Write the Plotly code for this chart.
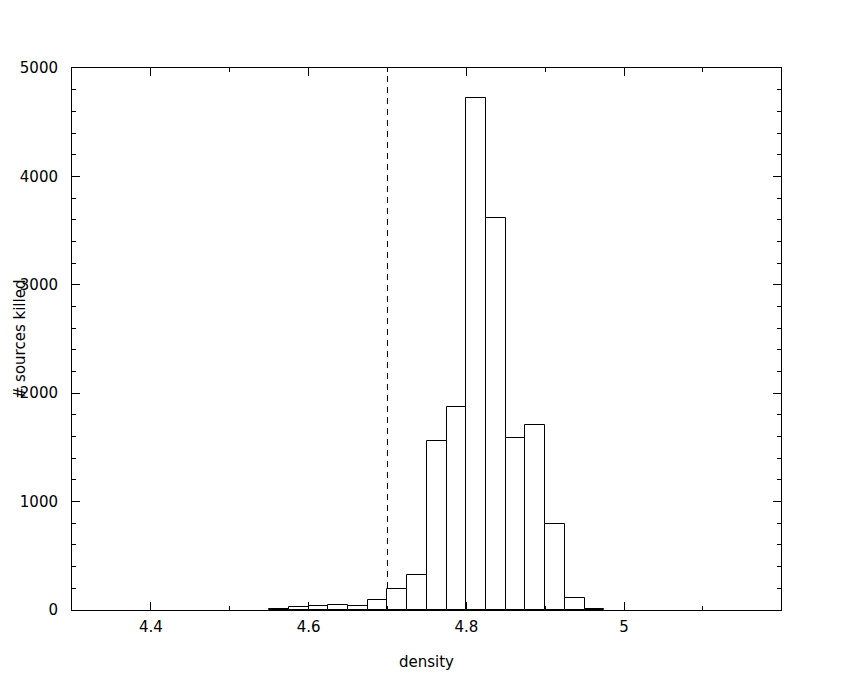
import plotly.graph_objects as go

# Histogram data (bin left edges, bin width 0.025)
bin_left = [4.55, 4.575, 4.6, 4.625, 4.65, 4.675, 4.7, 4.725, 4.75, 4.775,
            4.8, 4.825, 4.85, 4.875, 4.9, 4.925, 4.95]
counts = [10, 25, 35, 45, 35, 90, 190, 325, 1555, 1875,
          4725, 3620, 1590, 1710, 790, 115, 8]
bin_width = 0.025
cut_value = 4.7

x_title = "density"
y_title = "# sources killed"

centers = [b + bin_width / 2 for b in bin_left]

font = dict(family="DejaVu Sans", size=15, color="black")

fig = go.Figure()
fig.add_trace(go.Bar(
    x=centers, y=counts, width=[bin_width] * len(centers),
    marker=dict(color="white", line=dict(color="black", width=1)),
    showlegend=False, hoverinfo="skip",
))

fig.add_shape(type="line", x0=cut_value, x1=cut_value, y0=0, y1=5000,
              xref="x", yref="y", layer="below",
              line=dict(color="black", width=1, dash="6px,5px"))

axis_common = dict(
    showgrid=False, zeroline=False, showline=True, linecolor="black",
    linewidth=1, mirror="allticks", ticks="inside", tickcolor="black",
    tickwidth=1, ticklen=8, tickfont=font,
)

fig.update_xaxes(range=[4.3, 5.199], tick0=4.4, dtick=0.2,
                 minor=dict(ticks="inside", ticklen=4, dtick=0.1, tick0=4.4,
                            tickcolor="black", tickwidth=1, showgrid=False),
                 ticklabelstandoff=3,
                 **axis_common)
fig.update_yaxes(range=[0, 5000], tick0=0, dtick=1000,
                 minor=dict(ticks="inside", ticklen=4, dtick=200, tick0=0,
                            tickcolor="black", tickwidth=1, showgrid=False),
                 ticklabelstandoff=10,
                 **axis_common)

fig.add_annotation(text=x_title, xref="paper", yref="paper", x=0.5, y=-0.0954,
                   xanchor="center", yanchor="middle", showarrow=False, font=font)
fig.add_annotation(text=y_title, xref="paper", yref="paper", x=-0.073, y=0.5,
                   xanchor="center", yanchor="middle", textangle=-90,
                   showarrow=False, font=font)

fig.update_layout(
    width=842, height=672,
    margin=dict(l=61, r=69, t=60, b=70),
    paper_bgcolor="white", plot_bgcolor="white",
    bargap=0, font=font,
)

fig.write_html("out.html")
